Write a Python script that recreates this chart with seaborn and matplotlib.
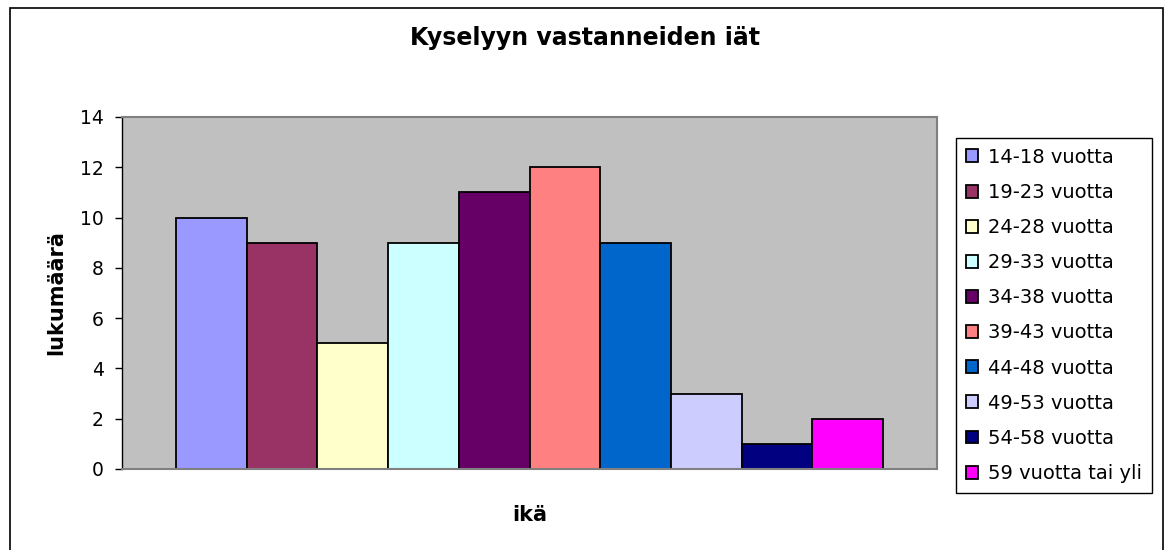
import pandas as pd
import matplotlib.pyplot as plt
import seaborn as sns
from matplotlib.patches import Rectangle

# data
age_groups = [
    "14-18 vuotta", "19-23 vuotta", "24-28 vuotta", "29-33 vuotta",
    "34-38 vuotta", "39-43 vuotta", "44-48 vuotta", "49-53 vuotta",
    "54-58 vuotta", "59 vuotta tai yli",
]
counts = [10, 9, 5, 9, 11, 12, 9, 3, 1, 2]
colors = [
    "#9999FF", "#993366", "#FFFFCC", "#CCFFFF", "#660066",
    "#FF8080", "#0066CC", "#CCCCFF", "#000080", "#FF00FF",
]

df = pd.DataFrame({"ikä": ["ikä"] * len(counts), "ryhmä": age_groups, "lukumäärä": counts})

sns.set_style("white")
plt.rcParams["font.family"] = ["DejaVu Sans"]
plt.rcParams.update({"text.color": "black", "axes.labelcolor": "black",
                     "xtick.color": "black", "ytick.color": "black"})

fig = plt.figure(figsize=(11.7, 5.5), dpi=100)
ax = fig.add_axes([122 / 1170, 1 - 469 / 550, 815 / 1170, 352 / 550])

sns.barplot(
    data=df, x="ikä", y="lukumäärä", hue="ryhmä", hue_order=age_groups,
    palette=colors, width=0.868, edgecolor="black", linewidth=1.3,
    saturation=1, ax=ax, legend=True,
)

ax.set_facecolor("#C0C0C0")
ax.set_ylim(0, 14)
ax.set_yticks(range(0, 15, 2))
ax.tick_params(axis="y", labelsize=13.5, length=5, width=1, direction="out", left=True, pad=8)
ax.set_xticks([])
ax.set_xlabel("ikä", fontsize=15, fontweight="bold", labelpad=26)
ax.set_ylabel("lukumäärä", fontsize=15, fontweight="bold", labelpad=10)
for side in ["top", "right", "bottom"]:
    ax.spines[side].set_color("#808080")
    ax.spines[side].set_linewidth(1.5)
ax.spines["left"].set_color("black")
ax.spines["left"].set_linewidth(1)

fig.suptitle("Kyselyyn vastanneiden iät", fontsize=17, fontweight="bold", x=0.5, y=1 - 26 / 550)

ax.legend(
    loc="upper left", bbox_to_anchor=(956 / 1170, 1 - 138 / 550),
    bbox_transform=fig.transFigure, fontsize=14, frameon=True,
    fancybox=False, edgecolor="black", framealpha=1, handlelength=0.65,
    handleheight=0.65, handletextpad=0.5, labelspacing=0.83,
    borderpad=0.5, borderaxespad=0,
)
ax.get_legend().get_frame().set_linewidth(1)

# outer chart frame
fig.patches.append(Rectangle((10 / 1170, -5 / 550), 1153 / 1170, 547 / 550,
                             transform=fig.transFigure, fill=False,
                             edgecolor="black", linewidth=1.2))

fig.savefig("out.png", dpi=100)
